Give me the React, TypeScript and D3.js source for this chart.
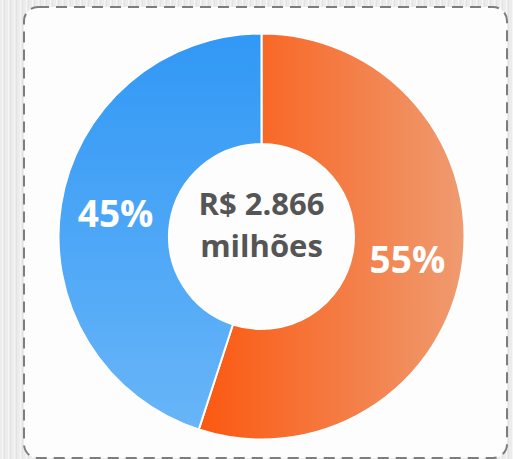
import React, { useEffect, useRef } from 'react';
import * as d3 from 'd3';

const labels = ['Parte A', 'Parte B'];
const shares = [55, 45];
const centerLines = ['R$ 2.866', 'milhões'];

const App = () => {
  const ref = useRef<SVGSVGElement | null>(null);

  useEffect(() => {
    const width = 513;
    const height = 459;
    const svg = d3.select(ref.current);
    svg.selectAll('*').remove();

    const defs = svg.append('defs');

    // fundo com listras verticais leves
    const pat = defs
      .append('pattern')
      .attr('id', 'streaks')
      .attr('width', 6)
      .attr('height', 10)
      .attr('patternUnits', 'userSpaceOnUse');
    pat.append('rect').attr('width', 6).attr('height', 10).attr('fill', '#ececec');
    pat.append('rect').attr('x', 2).attr('width', 1).attr('height', 10).attr('fill', '#f6f6f6');
    pat.append('rect').attr('x', 4).attr('width', 1).attr('height', 10).attr('fill', '#e2e2e2');

    const gOrange = defs
      .append('linearGradient')
      .attr('id', 'gradOrange')
      .attr('x1', '0%').attr('y1', '0%')
      .attr('x2', '100%').attr('y2', '0%');
    gOrange.append('stop').attr('offset', '0%').attr('stop-color', '#fb5810');
    gOrange.append('stop').attr('offset', '100%').attr('stop-color', '#ef9b70');

    const gBlue = defs
      .append('linearGradient')
      .attr('id', 'gradBlue')
      .attr('x1', '0%').attr('y1', '0%')
      .attr('x2', '0%').attr('y2', '100%');
    gBlue.append('stop').attr('offset', '0%').attr('stop-color', '#3198f5');
    gBlue.append('stop').attr('offset', '100%').attr('stop-color', '#68b5f8');

    svg.append('rect').attr('width', width).attr('height', height).attr('fill', 'url(#streaks)');

    svg
      .append('rect')
      .attr('x', 24)
      .attr('y', 7)
      .attr('width', 483)
      .attr('height', 451)
      .attr('rx', 14)
      .attr('fill', '#fdfdfd')
      .attr('stroke', '#7d7d7d')
      .attr('stroke-width', 2)
      .attr('stroke-dasharray', '11 7');

    const cx = 261.5;
    const cy = 236.5;
    const outer = 203;
    const inner = 92.5;

    const data = labels.map((l, i) => ({ label: l, value: shares[i] }));
    const pie = d3.pie<{ label: string; value: number }>().value((d) => d.value).sort(null);
    const arc = d3.arc<d3.PieArcDatum<{ label: string; value: number }>>()
      .innerRadius(inner)
      .outerRadius(outer);
    const fills = ['url(#gradOrange)', 'url(#gradBlue)'];

    const g = svg.append('g').attr('transform', `translate(${cx},${cy})`);
    const arcs = pie(data);

    g.selectAll('path')
      .data(arcs)
      .enter()
      .append('path')
      .attr('d', arc)
      .attr('fill', (d, i) => fills[i])
      .attr('stroke', '#ffffff')
      .attr('stroke-width', 2);

    g.selectAll('text.pct')
      .data(arcs)
      .enter()
      .append('text')
      .attr('class', 'pct')
      .attr('transform', (d) => `translate(${arc.centroid(d)})`)
      .attr('text-anchor', 'middle')
      .attr('dy', '0.36em')
      .attr('fill', '#ffffff')
      .attr('font-family', '"Open Sans", sans-serif')
      .attr('font-weight', 700)
      .attr('font-size', 37)
      .text((d) => `${d.data.value}%`);

    g.selectAll('text.center')
      .data(centerLines)
      .enter()
      .append('text')
      .attr('class', 'center')
      .attr('text-anchor', 'middle')
      .attr('y', (d, i) => (i === 0 ? -22 : 20))
      .attr('fill', '#555555')
      .attr('font-family', '"Open Sans", sans-serif')
      .attr('font-weight', 700)
      .attr('font-size', 31)
      .text((d) => d);
  }, []);

  return (
    <svg
      ref={ref}
      width={513}
      height={459}
      style={{ position: 'absolute', left: 0, top: 0 }}
    ></svg>
  );
};

export default App;
